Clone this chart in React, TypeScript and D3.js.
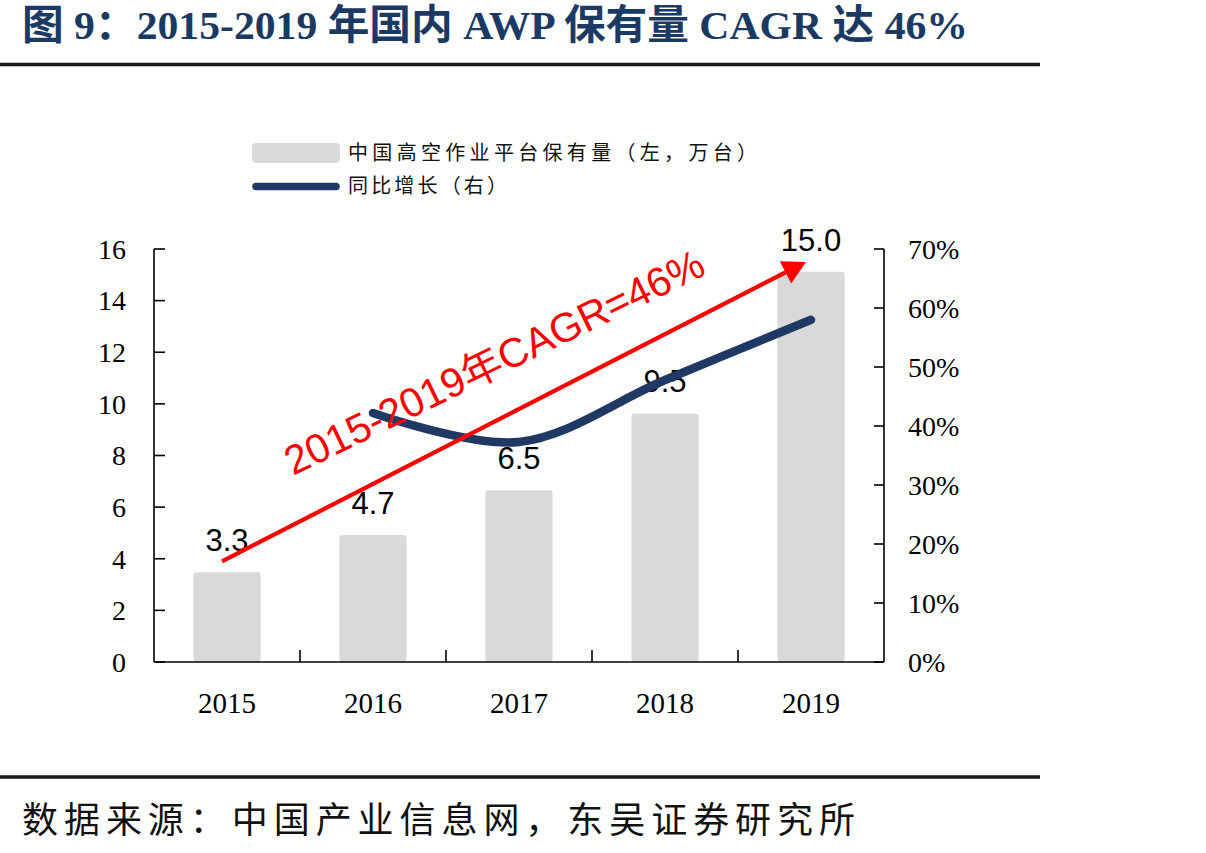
import React from 'react';
import * as d3 from 'd3';

// values
const years = ['2015', '2016', '2017', '2018', '2019'];
const fleetBars = [3.48, 4.92, 6.65, 9.63, 15.12]; // bar heights (万台)
const fleetLabels = ['3.3', '4.7', '6.5', '9.5', '15.0'];
const growthYears = ['2016', '2017', '2018', '2019'];
const growthPct = [42.2, 37.3, 47.8, 58.0];
const leftTicks = [0, 2, 4, 6, 8, 10, 12, 14, 16];
const rightTicks = [0, 10, 20, 30, 40, 50, 60, 70];

// CAGR arrow annotation, in data terms (year, left-axis value)
const arrowFrom = { year: '2015', value: 3.9 };
const arrowTo = { year: '2019', value: 15.5 };

const W = 1206;
const H = 853;
const NAVY = '#1F3864';
const RED = '#FF0000';
const SERIF = "'Liberation Serif', 'Times New Roman', 'Noto Sans CJK SC', serif";
const SANS = "'Liberation Sans', Arial, 'Noto Sans CJK SC', sans-serif";
const CJK = "'Noto Sans CJK SC', sans-serif";

export default function App() {
  const plot = { left: 154, right: 884, top: 249, bottom: 662 };

  const x = d3.scaleBand<string>()
    .domain(years)
    .range([plot.left, plot.right])
    .paddingInner(0.54)
    .paddingOuter(0.27);
  const step = x.step();
  const cx = (y: string) => (x(y) ?? 0) + x.bandwidth() / 2;

  const yL = d3.scaleLinear().domain([0, 16]).range([plot.bottom, plot.top]);
  const yR = d3.scaleLinear().domain([0, 70]).range([plot.bottom, plot.top]);

  const line = d3.line<number>()
    .x((_, i) => cx(growthYears[i]))
    .y(d => yR(d))
    .curve(d3.curveCatmullRom.alpha(0.5));

  // arrow geometry
  const ax0 = cx(arrowFrom.year) - 5;
  const ay0 = yL(arrowFrom.value);
  const ax1 = cx(arrowTo.year) - 5;
  const ay1 = yL(arrowTo.value);
  const ang = Math.atan2(ay1 - ay0, ax1 - ax0);
  const headLen = 23;
  const headHalf = 12.5;
  const bx = ax1 - headLen * Math.cos(ang);
  const by = ay1 - headLen * Math.sin(ang);
  const px = -Math.sin(ang) * headHalf;
  const py = Math.cos(ang) * headHalf;
  const head = `${ax1},${ay1} ${bx + px},${by + py} ${bx - px},${by - py}`;

  return (
    <svg
      width={W}
      height={H}
      viewBox={`0 0 ${W} ${H}`}
      style={{ position: 'absolute', left: 0, top: 0, background: '#fff' }}
    >
      {/* title */}
      <text
        x={22}
        y={39}
        fontFamily={SERIF}
        fontWeight="bold"
        fontSize={41}
        fill="#1B3A63"
        textLength={946}
        lengthAdjust="spacingAndGlyphs"
      >
        图 9：2015-2019 年国内 AWP 保有量 CAGR 达 46%
      </text>
      <line x1={0} x2={1040} y1={64.5} y2={64.5} stroke="#1a1a1a" strokeWidth={3.5} />

      {/* legend */}
      <rect x={252} y={143} width={88} height={20} rx={4} fill="#D9D9D9" />
      <text x={348} y={160} fontFamily={CJK} fontSize={20} fill="#111" textLength={409} lengthAdjust="spacing">
        中国高空作业平台保有量（左，万台）
      </text>
      <line x1={256} x2={336} y1={186.5} y2={186.5} stroke={NAVY} strokeWidth={7.5} strokeLinecap="round" />
      <text x={348} y={193} fontFamily={CJK} fontSize={20} fill="#111" textLength={159} lengthAdjust="spacing">
        同比增长（右）
      </text>

      {/* bars */}
      {years.map((yr, i) => (
        <rect
          key={yr}
          x={x(yr)}
          y={yL(fleetBars[i])}
          width={x.bandwidth()}
          height={plot.bottom - yL(fleetBars[i])}
          rx={3}
          fill="#D9D9D9"
        />
      ))}

      {/* axes */}
      <g stroke="#000" strokeWidth={1.6} fill="none">
        <line x1={plot.left} x2={plot.left} y1={plot.top} y2={plot.bottom} />
        <line x1={plot.right} x2={plot.right} y1={plot.top} y2={plot.bottom} />
        <line x1={plot.left} x2={plot.right} y1={plot.bottom} y2={plot.bottom} />
        {leftTicks.map(t => (
          <line key={`l${t}`} x1={plot.left} x2={plot.left + 11} y1={yL(t)} y2={yL(t)} />
        ))}
        {rightTicks.map(t => (
          <line key={`r${t}`} x1={plot.right - 10} x2={plot.right} y1={yR(t)} y2={yR(t)} />
        ))}
        {years.slice(1).map(yr => (
          <line key={`x${yr}`} x1={x(yr)! - step * 0.27} x2={x(yr)! - step * 0.27} y1={plot.bottom - 12} y2={plot.bottom} />
        ))}
      </g>
      <g fontFamily={SERIF} fontSize={28} fill="#000">
        {leftTicks.map(t => (
          <text key={`lt${t}`} x={126} y={yL(t)} dy="0.35em" textAnchor="end">{t}</text>
        ))}
        {rightTicks.map(t => (
          <text key={`rt${t}`} x={908} y={yR(t)} dy="0.35em" textAnchor="start">{`${t}%`}</text>
        ))}
        {years.map(yr => (
          <text key={`xt${yr}`} x={cx(yr)} y={713} textAnchor="middle" fontSize={29}>{yr}</text>
        ))}
      </g>

      {/* bar value labels */}
      <g fontFamily={SANS} fontSize={31} fill="#000" textAnchor="middle">
        {years.map((yr, i) => (
          <text key={`v${yr}`} x={cx(yr)} y={yL(fleetBars[i]) - 21}>{fleetLabels[i]}</text>
        ))}
      </g>

      {/* growth line */}
      <path d={line(growthPct) ?? ''} fill="none" stroke={NAVY} strokeWidth={8.5} strokeLinecap="round" />

      {/* CAGR arrow */}
      <line x1={ax0} y1={ay0} x2={bx} y2={by} stroke={RED} strokeWidth={4.2} />
      <polygon points={head} fill={RED} />
      <text
        x={293}
        y={476}
        transform="rotate(-26 293 476)"
        fontFamily={SANS}
        fontSize={41}
        fill={RED}
      >
        2015-2019年CAGR=46%
      </text>

      {/* footer */}
      <line x1={0} x2={1040} y1={777} y2={777} stroke="#1a1a1a" strokeWidth={3.5} />
      <text x={22} y={833} fontFamily={CJK} fontSize={36} fill="#111" textLength={833} lengthAdjust="spacing">
        数据来源：中国产业信息网，东吴证券研究所
      </text>
    </svg>
  );
}
